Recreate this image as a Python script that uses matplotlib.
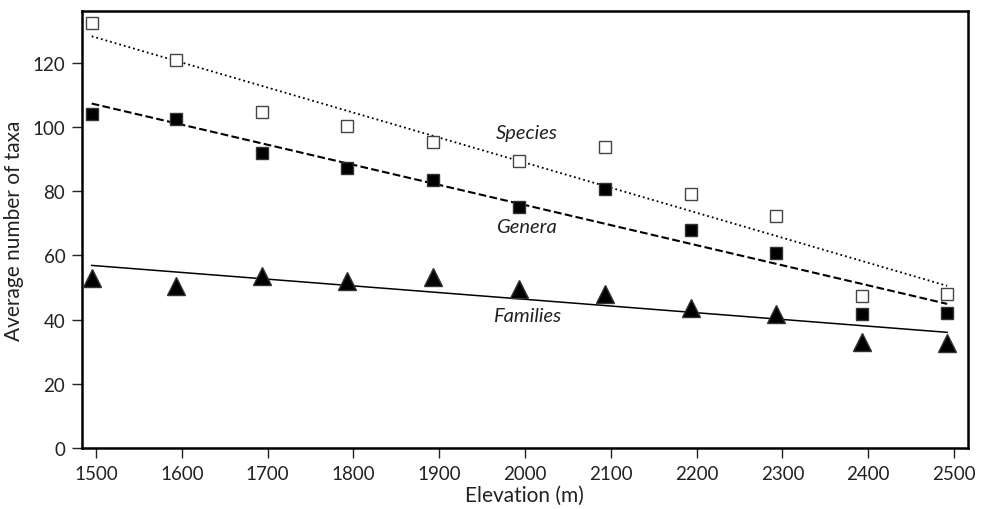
import numpy as np
import matplotlib
matplotlib.use('Agg')
import matplotlib.pyplot as plt

plt.rcParams['font.family'] = ['Lato', 'DejaVu Sans']

# elevation of each sampling band (m)
elevation = [1495, 1593, 1693, 1793, 1893, 1993, 2093, 2194, 2293, 2393, 2492]

# average number of taxa per band
species = [132.4, 120.9, 104.6, 100.2, 95.2, 89.3, 93.8, 79.2, 72.2, 47.4, 48.0]
genera = [104.0, 102.3, 92.0, 87.2, 83.5, 74.9, 80.8, 67.8, 60.8, 41.7, 42.0]
families = [52.8, 50.6, 53.7, 52.1, 53.3, 49.4, 48.1, 43.7, 41.6, 33.0, 32.6]

x_ticks = [1500, 1600, 1700, 1800, 1900, 2000, 2100, 2200, 2300, 2400, 2500]
y_ticks = [0, 20, 40, 60, 80, 100, 120]

fig = plt.figure(figsize=(9.82, 5.10), dpi=100)
ax = fig.add_axes([0.0835, 0.1196, 0.902, 0.857])

x = np.array(elevation, dtype=float)
x_line = np.array([x.min(), x.max()])

# linear fits for each taxonomic level
for vals, ls, lw in [(species, ':', 1.3), (genera, '--', 1.5), (families, '-', 1.1)]:
    slope, icpt = np.polyfit(x, vals, 1)
    ax.plot(x_line, slope * x_line + icpt, color='black', linestyle=ls, linewidth=lw, zorder=2)

ax.plot(x, species, linestyle='none', marker='s', markersize=9, markerfacecolor='white',
        markeredgecolor='#444444', markeredgewidth=1.0, zorder=3)
ax.plot(x, genera, linestyle='none', marker='s', markersize=9, markerfacecolor='black',
        markeredgecolor='#333333', zorder=3)
ax.plot(x, families, linestyle='none', marker='^', markersize=12.5, markerfacecolor='black',
        markeredgecolor='#333333', zorder=3)

txt_kw = dict(style='italic', fontsize=14.5, ha='center', va='center', color='#222222')
ax.text(2002, 98.4, 'Species', **txt_kw)
ax.text(2002, 68.9, 'Genera', **txt_kw)
ax.text(2002, 41.2, 'Families', **txt_kw)

ax.set_xlim(1483.7, 2516)
ax.set_ylim(0, 136.1)
ax.set_xticks(x_ticks)
ax.set_yticks(y_ticks)
ax.tick_params(direction='out', length=7, width=1.0, labelsize=13.5, colors='#222222', pad=5)

for side in ['left', 'bottom', 'top', 'right']:
    ax.spines[side].set_linewidth(1.8)

ax.set_xlabel('Elevation (m)', fontsize=15, color='#222222', labelpad=2)
ax.set_ylabel('Average number of taxa', fontsize=15, color='#222222', labelpad=6)

fig.savefig('out.png', dpi=100)
